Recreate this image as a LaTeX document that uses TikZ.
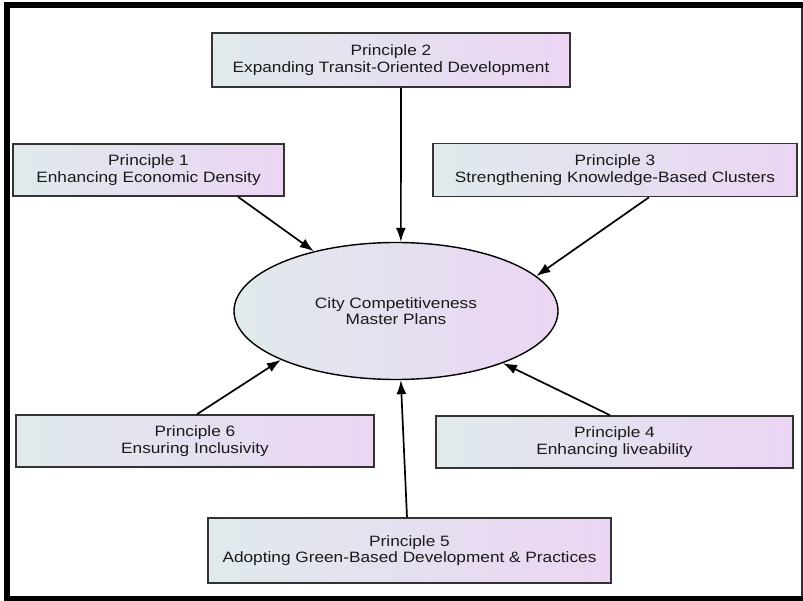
\documentclass[tikz,border=0pt]{standalone}
\usepackage{fontspec}
\setmainfont{Liberation Sans}[FakeStretch=1.15]
\usetikzlibrary{arrows.meta,shapes.geometric}
\definecolor{leftc}{HTML}{E0EAEC}
\definecolor{rightc}{HTML}{EBD5F3}
\definecolor{edgec}{HTML}{333333}
\definecolor{txtc}{HTML}{1A1A1A}
\tikzset{
  pbox/.style={draw=edgec, line width=1.6pt, left color=leftc, right color=rightc,
    rectangle, align=center, text=txtc, inner sep=0pt,
    font=\fontsize{15}{16.5}\selectfont},
  hub/.style={draw=black, line width=1.4pt, ellipse, left color=leftc, right color=rightc,
    align=center, text=txtc, inner sep=0pt, minimum width=324pt, minimum height=137pt,
    font=\fontsize{15}{16.5}\selectfont},
  conn/.style={draw=black, line width=1.7pt, -{Latex[length=14pt,width=10pt]}},
}
\begin{document}
\begin{tikzpicture}[x=1pt,y=-1pt]
\useasboundingbox (0,0) rectangle (803,601);
% frame
\draw[line width=1.5pt, draw=edgec] (802,5) -- (802,598);
\draw[line width=6pt, line cap=rect] (7,598.5) -- (7,5.5) -- (802,5.5);
\draw[line width=5pt] (7,598.5) -- (803,598.5);
% nodes
\node[hub] (ell) at (396,311) {City Competitiveness\\Master Plans};
\node[pbox, minimum width=358pt, minimum height=54pt] (p2) at (391,60) {Principle 2\\Expanding Transit-Oriented Development};
\node[pbox, minimum width=271pt, minimum height=52pt] (p1) at (148.5,170) {Principle 1\\Enhancing Economic Density};
\node[pbox, minimum width=364pt, minimum height=53pt] (p3) at (615,170) {Principle 3\\Strengthening Knowledge-Based Clusters};
\node[pbox, minimum width=358pt, minimum height=52pt] (p6) at (195,441) {Principle 6\\Ensuring Inclusivity};
\node[pbox, minimum width=357pt, minimum height=52pt] (p4) at (614.5,442) {Principle 4\\Enhancing liveability};
\node[pbox, minimum width=403pt, minimum height=65pt] (p5) at (409.5,550.5) {Principle 5\\Adopting Green-Based Development \& Practices};
% connectors
\draw[conn] ([xshift=89.5pt]p1.south) -- (ell.144.6);
\draw[conn] ([xshift=10pt]p2.south) -- (ell.86);
\draw[conn] ([xshift=34pt]p3.south) -- (ell.14.8);
\draw[conn] ([xshift=2pt]p6.north) -- (ell.203.8);
\draw[conn] ([xshift=-4.5pt]p4.north) -- (ell.334.9);
\draw[conn] ([xshift=-2.5pt]p5.north) -- (ell.274);
\end{tikzpicture}
\end{document}
